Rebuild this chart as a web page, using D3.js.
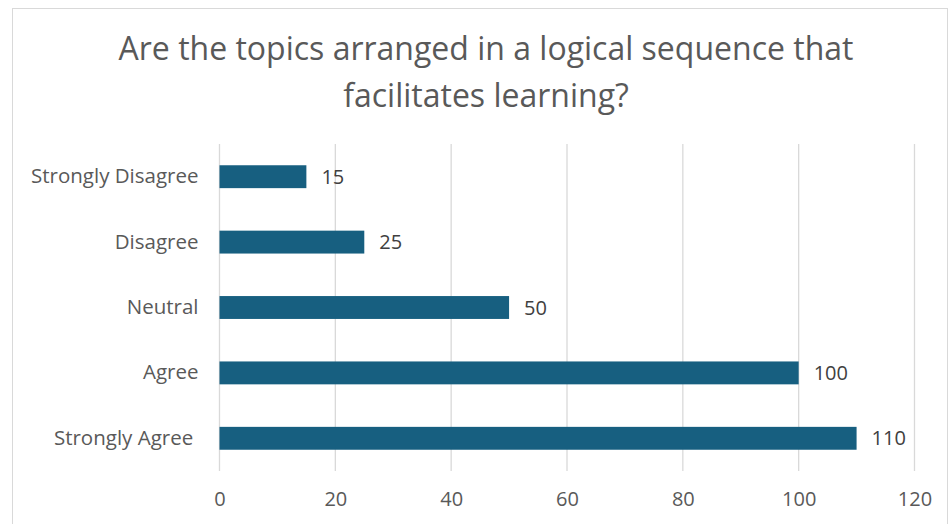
<!DOCTYPE html>
<html>
<head>
<meta charset="utf-8">
<script src="https://cdn.jsdelivr.net/npm/d3@7"></script>
<style>
  body { margin: 0; background: #fff; }
  text { font-family: "Open Sans", sans-serif; white-space: pre; }
</style>
</head>
<body>
<script>
// chart data
var categories = ["Strongly Disagree", "Disagree", "Neutral", "Agree", "Strongly Agree "];
var values = [15, 25, 50, 100, 110];
var xTicks = [0, 20, 40, 60, 80, 100, 120];
var titleLines = ["Are the topics arranged in a logical sequence that", "facilitates learning?"];

var W = 950, H = 524;
var margin = {top: 144, left: 219.5, right: 35.5, bottom: 53};
var width = W - margin.left - margin.right,
    height = H - margin.top - margin.bottom;

var svg = d3.select("body").append("svg")
    .attr("width", W)
    .attr("height", H);

// chart border
svg.append("rect")
    .attr("x", 12.5).attr("y", 8.5)
    .attr("width", 935).attr("height", 530)
    .attr("fill", "#fff")
    .attr("stroke", "#d9d9d9");

// title
svg.selectAll("text.title")
    .data(titleLines)
  .enter().append("text")
    .attr("class", "title")
    .attr("x", 486)
    .attr("y", function(d, i) { return 60 + i * 47; })
    .attr("text-anchor", "middle")
    .attr("fill", "#595959")
    .style("font-size", "32px")
    .text(function(d) { return d; });

var g = svg.append("g")
    .attr("transform", "translate(" + margin.left + "," + margin.top + ")");

var x = d3.scaleLinear().domain([0, 120]).range([0, width]);
var y = d3.scaleBand().domain(categories).range([0, height]).paddingInner(0.65).paddingOuter(0.325);

// gridlines
g.selectAll("line.grid")
    .data(xTicks)
  .enter().append("line")
    .attr("class", "grid")
    .attr("x1", function(d) { return x(d); })
    .attr("x2", function(d) { return x(d); })
    .attr("y1", 0)
    .attr("y2", height)
    .attr("stroke", "#d9d9d9")
    .attr("stroke-width", 1.3);

// x axis labels
var xAxis = g.append("g")
    .attr("transform", "translate(0," + height + ")")
    .call(d3.axisBottom(x).tickValues(xTicks).tickSize(0).tickPadding(21));
xAxis.select(".domain").remove();
xAxis.selectAll("text")
    .attr("fill", "#595959")
    .style("font-size", "20px")
    .style("font-family", "'Open Sans', sans-serif");

// y axis labels
var yAxis = g.append("g")
    .call(d3.axisLeft(y).tickSize(0).tickPadding(21));
yAxis.select(".domain").remove();
yAxis.selectAll("text")
    .attr("fill", "#595959")
    .style("font-size", "20.5px")
    .style("font-family", "'Open Sans', sans-serif");

// bars
g.selectAll("rect.bar")
    .data(values)
  .enter().append("rect")
    .attr("class", "bar")
    .attr("x", 0)
    .attr("y", function(d, i) { return y(categories[i]); })
    .attr("width", function(d) { return x(d); })
    .attr("height", y.bandwidth())
    .attr("fill", "#175f80");

// value labels
g.selectAll("text.val")
    .data(values)
  .enter().append("text")
    .attr("class", "val")
    .attr("x", function(d) { return x(d) + 15; })
    .attr("y", function(d, i) { return y(categories[i]) + y.bandwidth() / 2; })
    .attr("dy", "0.35em")
    .attr("fill", "#404040")
    .style("font-size", "20px")
    .text(function(d) { return d; });
</script>
</body>
</html>
